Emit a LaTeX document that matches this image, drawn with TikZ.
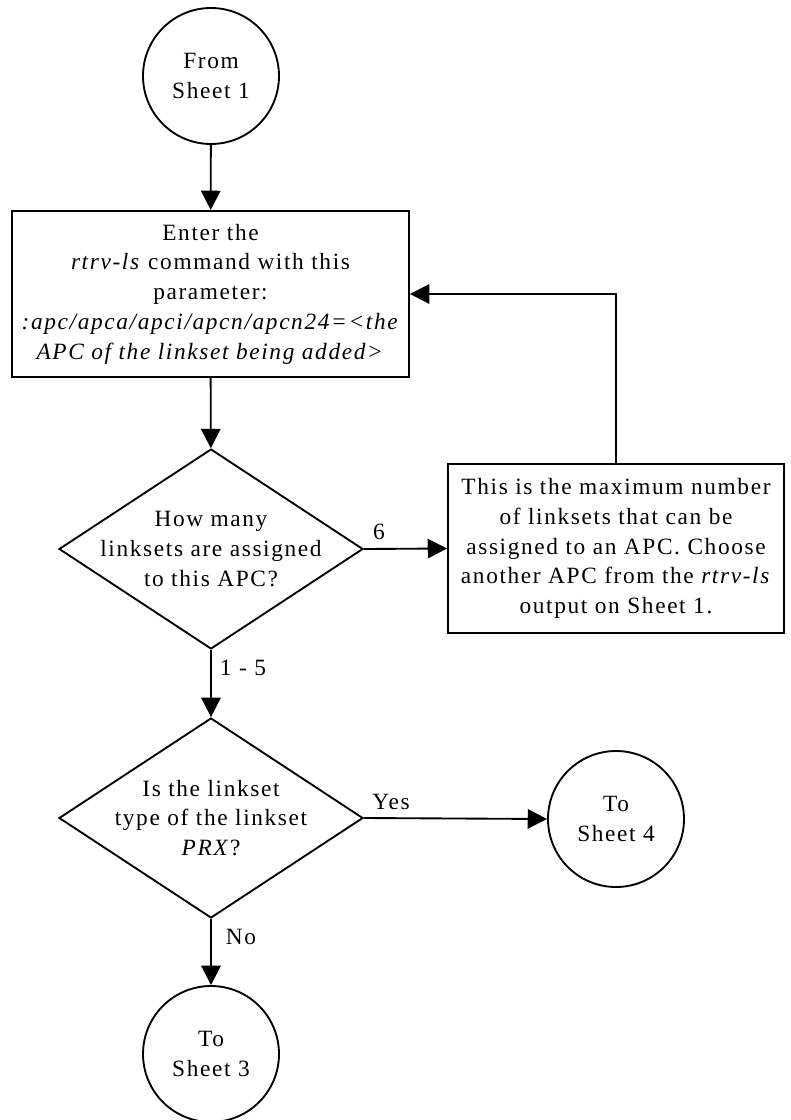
\documentclass[tikz,border=0pt]{standalone}
\usepackage{fontspec}
\setmainfont{Liberation Serif}[LetterSpace=7]
\usetikzlibrary{shapes.geometric,arrows.meta}
\tikzset{
  base/.style={font=\fontsize{17.5}{22.3}\selectfont},
  conn/.style={draw, line width=1.4pt, -{Triangle[length=14.5pt,width=14.5pt]}},
  boxnode/.style={base, draw, line width=1.4pt, rectangle, inner sep=0pt, align=center},
  circnode/.style={base, draw, line width=1.4pt, circle, minimum size=102pt, inner sep=0pt, align=center},
  dianode/.style={draw, line width=1.4pt, diamond, minimum width=228pt, minimum height=150pt, inner sep=0pt},
  txt/.style={base, align=center, inner sep=0pt},
  lbl/.style={base, inner sep=0pt}
}
\begin{document}
\begin{tikzpicture}[x=0.75pt,y=-0.75pt]
\useasboundingbox (0,0) rectangle (790,1120);
\node[circnode] (c1) at (211,76) {From\\Sheet 1};
\node[boxnode, minimum width=297.75pt, minimum height=124.5pt] (b1) at (210.5,294)
  {Enter the\\\textit{rtrv-ls} command with this\\parameter:\\\textit{:apc/apca/apci/apcn/apcn24=<the}\\\textit{APC of the linkset being added>}};
\node[dianode] (d1) at (211,549) {};
\node[txt] (t1) at (211,549) {How many\\linksets are assigned\\to this APC?};
\node[boxnode, minimum width=252pt, minimum height=126.75pt] (r1) at (616,548.5)
  {This is the maximum number\\of linksets that can be\\assigned to an APC. Choose\\another APC from the \textit{rtrv-ls}\\output on Sheet 1.};
\node[dianode] (d2) at (211,818) {};
\node[txt] (t2) at (211,818) {Is the linkset\\type of the linkset\\\textit{PRX}?};
\node[circnode] (c4) at (616,819) {To\\Sheet 4};
\node[circnode] (c3) at (211,1054) {To\\Sheet 3};

\draw[conn] (c1) -- (b1);
\draw[conn] (b1) -- (d1);
\draw[conn] (d1.east) -- (r1.west);
\draw[conn] (r1.north) |- (b1.east);
\draw[conn] (d1.south) -- (d2.north);
\draw[conn] (d2.east) -- (c4.west);
\draw[conn] (d2.south) -- (c3.north);

\node[lbl] (l6) at (379,532) {6};
\node[lbl] (l15) at (243,668) {1 - 5};
\node[lbl] (lyes) at (391,802) {Yes};
\node[lbl] (lno) at (241,937) {No};
\end{tikzpicture}
\end{document}
